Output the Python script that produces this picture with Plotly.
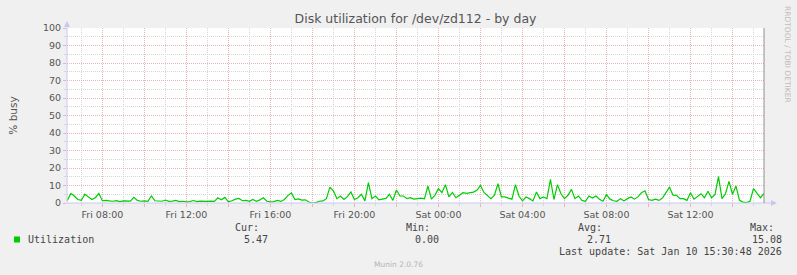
import pandas as pd
import plotly.graph_objects as go

# ---- data (10-minute samples) ----
series_start = "2026-01-09 06:20"
series_step = "10min"
utilization = [
    1.5, 5.5, 4.0, 2.0, 1.5, 5.0, 3.5, 2.0, 3.0, 5.5,
    1.3, 1.5, 1.2, 1.0, 1.3, 0.8, 1.2, 1.0, 1.1, 3.2,
    1.5, 1.0, 1.2, 0.9, 4.0, 1.3, 1.0, 1.0, 1.7, 0.9,
    1.1, 1.5, 0.8, 1.0, 0.7, 0.8, 1.4, 0.8, 1.1, 0.8,
    0.9, 1.1, 0.9, 3.0, 1.8, 3.2, 0.7, 1.3, 2.2, 2.6,
    1.3, 1.5, 1.0, 2.0, 1.0, 1.8, 3.0, 1.0, 0.6, 0.8,
    1.5, 0.9, 2.0, 4.2, 5.8, 2.0, 2.3, 1.7, 1.8, 0.6,
    0.0, 0.2, 1.0, 1.2, 2.5, 9.1, 6.9, 2.5, 4.0, 2.0,
    3.6, 6.3, 2.0, 3.0, 5.0, 1.2, 11.6, 2.5, 4.0, 1.8,
    2.2, 2.6, 5.0, 1.5, 7.4, 4.0, 4.0, 2.5, 3.0, 2.2,
    2.5, 2.8, 2.4, 9.7, 2.2, 4.4, 8.2, 5.9, 10.5, 3.5,
    6.0, 3.0, 4.4, 5.9, 5.5, 6.0, 6.2, 7.2, 10.1, 6.0,
    4.0, 2.5, 4.5, 11.0, 3.5, 3.5, 2.8, 2.2, 10.5, 4.0,
    1.2, 3.4, 2.5, 1.2, 6.3, 2.5, 3.4, 2.5, 13.5, 2.0,
    10.5, 5.3, 2.5, 4.4, 7.8, 2.5, 4.0, 1.5, 1.0, 4.0,
    2.8, 4.0, 2.2, 1.0, 4.8, 2.2, 1.3, 1.0, 2.5, 1.2,
    2.5, 3.4, 2.2, 3.5, 5.9, 7.0, 2.0, 1.5, 2.2, 1.5,
    2.8, 5.9, 9.1, 4.5, 4.4, 2.5, 2.5, 1.5, 5.9, 2.2,
    3.5, 5.3, 3.0, 6.7, 3.0, 4.8, 15.08, 2.5, 5.3, 12.4,
    5.0, 9.7, 1.5, 0.5, 0.3, 1.0, 8.2, 5.3, 3.0, 5.47,
]
x_range = ["2026-01-09 06:19", "2026-01-10 15:30"]
tick_vals = [
    "2026-01-09 08:00", "2026-01-09 10:00", "2026-01-09 12:00", "2026-01-09 14:00",
    "2026-01-09 16:00", "2026-01-09 18:00", "2026-01-09 20:00", "2026-01-09 22:00",
    "2026-01-10 00:00", "2026-01-10 02:00", "2026-01-10 04:00", "2026-01-10 06:00",
    "2026-01-10 08:00", "2026-01-10 10:00", "2026-01-10 12:00", "2026-01-10 14:00",
]
tick_text = [
    "Fri 08:00", "", "Fri 12:00", "", "Fri 16:00", "", "Fri 20:00", "",
    "Sat 00:00", "", "Sat 04:00", "", "Sat 08:00", "", "Sat 12:00", "",
]
y_ticks = [0, 10, 20, 30, 40, 50, 60, 70, 80, 90, 100]
title_text = "Disk utilization for /dev/zd112 - by day"
y_title = "% busy"
series_name = "Utilization"
stat_labels = ["Cur:", "Min:", "Avg:", "Max:"]
stat_values = ["5.47", "0.00", "2.71", "15.08"]
last_update = "Last update: Sat Jan 10 15:30:48 2026"
footer = "Munin 2.0.76"
side_text = "RRDTOOL / TOBI OETIKER"

times = pd.date_range(series_start, periods=len(utilization), freq=series_step)

# ---- layout geometry (pixels) ----
W, H = 797, 275
L, R, T, B = 67, 764, 28, 203
PW, PH = R - L, B - T


def px(x):
    return (x - L) / PW


def py(y):
    return (B - y) / PH


RED = "#eab4b4"
GRAY = "#d6d6d6"
AXIS = "#c8c8f0"
TXT = "#555555"

fig = go.Figure()
fig.add_trace(go.Scatter(
    x=times, y=utilization, mode="lines", name=series_name,
    line=dict(color="#00cc00", width=1.2), hoverinfo="skip",
))

fig.update_layout(
    width=W, height=H,
    margin=dict(l=L, r=W - R, t=T, b=H - B),
    paper_bgcolor="#f0f0f0", plot_bgcolor="#ffffff",
    showlegend=False,
    font=dict(family="DejaVu Sans", size=10, color=TXT),
    title=dict(text=title_text, x=0.5, xref="paper", xanchor="center",
               y=1 - 19 / H, yref="container", yanchor="middle",
               font=dict(family="DejaVu Sans", size=12.5, color=TXT)),
)

fig.update_xaxes(
    type="date", range=x_range,
    tickmode="array", tickvals=tick_vals, ticktext=tick_text,
    tickfont=dict(family="DejaVu Sans", size=9.5, color=TXT),
    showgrid=True, gridcolor=RED, griddash="1px,1px", gridwidth=1,
    ticks="outside", ticklen=3, tickcolor=RED, tickwidth=1,
    showline=False, zeroline=False,
    minor=dict(tickmode="linear", tick0="2026-01-09 00:00", dtick=3600000,
               showgrid=True, gridcolor=GRAY, griddash="1px,1px",
               ticks="outside", ticklen=2, tickcolor=GRAY),
)
fig.update_yaxes(
    range=[0, 100], tickmode="array", tickvals=y_ticks,
    tickfont=dict(family="DejaVu Sans", size=9.5, color=TXT),
    showgrid=True, gridcolor=RED, griddash="1px,1px", gridwidth=1,
    ticks="outside", ticklen=3, tickcolor=RED, tickwidth=1,
    showline=False, zeroline=False,
    minor=dict(tickmode="linear", tick0=0, dtick=5,
               showgrid=True, gridcolor=GRAY, griddash="1px,1px",
               ticks="outside", ticklen=2, tickcolor=GRAY),
    title=dict(text=y_title, font=dict(family="DejaVu Sans", size=10.5, color=TXT),
               standoff=23),
)

shapes = [
    # axes
    dict(type="line", xref="paper", yref="paper", x0=0, x1=0, y0=0, y1=py(24),
         line=dict(color=AXIS, width=1)),
    dict(type="line", xref="paper", yref="paper", x0=0, x1=px(774), y0=0, y1=0,
         line=dict(color=AXIS, width=1)),
    dict(type="path", xref="paper", yref="paper",
         path=f"M {px(64)} {py(27)} L {px(70)} {py(27)} L {px(67)} {py(21)} Z",
         fillcolor=AXIS, line=dict(width=0)),
    dict(type="path", xref="paper", yref="paper",
         path=f"M {px(771)} {py(200)} L {px(771)} {py(206)} L {px(777)} {py(203)} Z",
         fillcolor=AXIS, line=dict(width=0)),
    # right border
    dict(type="line", xref="paper", yref="paper", x0=1, x1=1, y0=0, y1=1,
         line=dict(color="#909090", width=1)),
    # legend swatch
    dict(type="rect", xref="paper", yref="paper",
         x0=px(14), x1=px(20), y0=py(242.5), y1=py(236.5),
         fillcolor="#00cc00", line=dict(width=0)),
]
fig.update_layout(shapes=shapes)

MONO = "DejaVu Sans Mono"
ann = []


def add(text, x, y, xa="left", size=10, color="#444444", family=MONO, angle=0):
    ann.append(dict(text=text, x=px(x), y=py(y), xref="paper", yref="paper",
                    xanchor=xa, yanchor="middle", showarrow=False, textangle=angle,
                    font=dict(family=family, size=size, color=color)))


add(series_name, 26, 239.7)
label_x = [233, 404, 576, 748]
value_x = [270, 441, 613, 784]
for lab, lx in zip(stat_labels, label_x):
    add(lab, lx, 227.5)
for val, vx in zip(stat_values, value_x):
    add(val, vx, 239.7, xa="right")
add(last_update, 784, 251.5, xa="right")
add(footer, 398, 264, xa="center", size=7.5, color="#b4b4b4", family="DejaVu Sans")
add(side_text, 788, 54, xa="center", size=7.5, color="#bcbcbc", family="DejaVu Sans", angle=90)
fig.update_layout(annotations=ann)

fig.write_html("out.html")
